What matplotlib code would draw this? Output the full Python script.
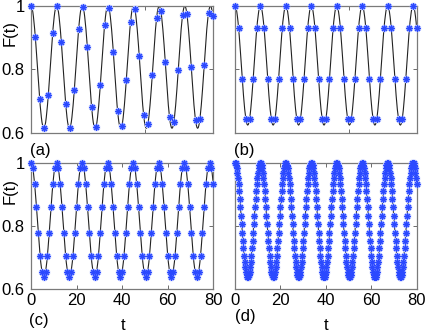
import matplotlib
matplotlib.use("Agg")
import matplotlib.pyplot as plt
import numpy as np

plt.rcParams['font.family'] = ['Liberation Sans', 'DejaVu Sans']

W, H = 443, 333

# one period of each black curve F(t), 42 samples
period_a = [1.000, 0.998, 0.991, 0.981, 0.966, 0.948, 0.927, 0.904, 0.878, 0.850, 0.821,
            0.793, 0.764, 0.736, 0.711, 0.687, 0.666, 0.648, 0.633, 0.623, 0.616, 0.614,
            0.616, 0.623, 0.633, 0.648, 0.666, 0.687, 0.711, 0.736, 0.764, 0.793, 0.821,
            0.850, 0.878, 0.904, 0.927, 0.948, 0.966, 0.981, 0.991, 0.998]
period_b = [1.000, 0.998, 0.992, 0.981, 0.967, 0.950, 0.929, 0.906, 0.881, 0.854, 0.826,
            0.798, 0.770, 0.743, 0.718, 0.695, 0.674, 0.657, 0.643, 0.632, 0.626, 0.624,
            0.626, 0.632, 0.643, 0.657, 0.674, 0.695, 0.718, 0.743, 0.770, 0.798, 0.826,
            0.854, 0.881, 0.906, 0.929, 0.950, 0.967, 0.981, 0.992, 0.998]
period_cd = [1.000, 0.998, 0.992, 0.982, 0.969, 0.952, 0.932, 0.910, 0.885, 0.859, 0.833,
             0.806, 0.779, 0.753, 0.729, 0.706, 0.686, 0.670, 0.656, 0.646, 0.640, 0.638,
             0.640, 0.646, 0.656, 0.670, 0.686, 0.706, 0.729, 0.753, 0.779, 0.806, 0.833,
             0.859, 0.885, 0.910, 0.932, 0.952, 0.969, 0.982, 0.992, 0.998]
T_a = 11.25    # oscillation period in (a)
T_bcd = 11.2   # oscillation period in (b)-(d)

# asterisks of (a): coarse step, they drift off the peaks
dt_star_a = 1.9
star_a = [1.000, 0.901, 0.706, 0.614, 0.720, 0.915, 0.999, 0.887, 0.692, 0.615, 0.735,
          0.928, 0.997, 0.872, 0.680, 0.618, 0.750, 0.940, 0.994, 0.856, 0.668, 0.622,
          0.766, 0.951, 0.989, 0.841, 0.657, 0.628, 0.781, 0.962, 0.983, 0.824, 0.648,
          0.634, 0.798, 0.971, 0.976, 0.808, 0.639, 0.642, 0.814, 0.979, 0.968]

# asterisks of (b), (c), (d) sit on the curve samples: every 6th, 3rd, 1st
step_b, step_c, step_d = 6, 3, 1

labels = ['(a)', '(b)', '(c)', '(d)']


def curve(period, T, tmax=80):
    n = int(tmax / (T / len(period)) + 1e-6) + 1
    t = np.arange(n) * T / len(period)
    f = np.tile(period, n // len(period) + 1)[:n]
    return t, f


def axes_px(fig, x0, y0, x1, y1):
    return fig.add_axes([x0 / W, 1 - y1 / H, (x1 - x0) / W, (y1 - y0) / H])


def style(ax, xlab, ylab, xticks):
    ax.set_xlim(0, 80)
    ax.set_ylim(0.6, 1)
    ax.set_xticks(xticks)
    ax.set_yticks([0.6, 0.8, 1.0])
    ax.set_xticklabels([str(v) for v in xticks] if xlab else [])
    ax.set_yticklabels(['0.6', '0.8', '1'] if ylab else [])
    ax.tick_params(direction='in', length=3, width=0.6, color='#555555',
                   top=True, right=True, labelsize=12)
    ax.tick_params(axis='y', pad=4.5)
    ax.tick_params(axis='x', pad=3)
    for s in ax.spines.values():
        s.set_color('#7a7a7a')
        s.set_linewidth(0.9)


def stars(ax, t, f):
    ax.plot(t, f, ls='none', marker=(8, 2, 0), ms=5.2, mew=2.0,
            color='#bcc7ff', clip_on=False, zorder=3)
    ax.plot(t, f, ls='none', marker=(8, 2, 0), ms=4.6, mew=0.8,
            color='#2b49ff', clip_on=False, zorder=4)


fig = plt.figure(figsize=(W / 100, H / 100), dpi=100)

ax_a = axes_px(fig, 31, 6, 213.3, 132.7)
ax_b = axes_px(fig, 235, 6, 416.7, 132.7)
ax_c = axes_px(fig, 31, 162.7, 213.3, 289.3)
ax_d = axes_px(fig, 235, 162.7, 416.7, 289.3)

t, f = curve(period_a, T_a)
ax_a.plot(t, f, color='#222222', lw=0.8, zorder=2)
ts = np.arange(len(star_a)) * dt_star_a
stars(ax_a, ts, star_a)

t, f = curve(period_b, T_bcd)
ax_b.plot(t, f, color='#222222', lw=0.8, zorder=2)
stars(ax_b, t[::step_b], f[::step_b])

t, f = curve(period_cd, T_bcd)
ax_c.plot(t, f, color='#222222', lw=0.8, zorder=2)
stars(ax_c, t[::step_c], f[::step_c])
ax_d.plot(t, f, color='#222222', lw=0.8, zorder=2)
stars(ax_d, t[::step_d], f[::step_d])

style(ax_a, False, True, [0, 50])
style(ax_b, False, False, [0, 50])
style(ax_c, True, True, [0, 20, 40, 60, 80])
style(ax_d, True, False, [0, 20, 40, 60, 80])

fs = 12
fig.text(10 / W, 1 - 33 / H, 'F(t)', rotation=90, ha='center', va='center', fontsize=fs)
fig.text(10 / W, 1 - 191 / H, 'F(t)', rotation=90, ha='center', va='center', fontsize=fs)
for lab, (x, y) in zip(labels, [(40, 150), (244, 150), (39, 320), (245, 317)]):
    fig.text(x / W, 1 - y / H, lab, ha='center', va='center', fontsize=fs)
fig.text(123 / W, 1 - 326 / H, 't', ha='center', va='center', fontsize=fs)
fig.text(326 / W, 1 - 326 / H, 't', ha='center', va='center', fontsize=fs)

fig.savefig('out.png', dpi=100)
